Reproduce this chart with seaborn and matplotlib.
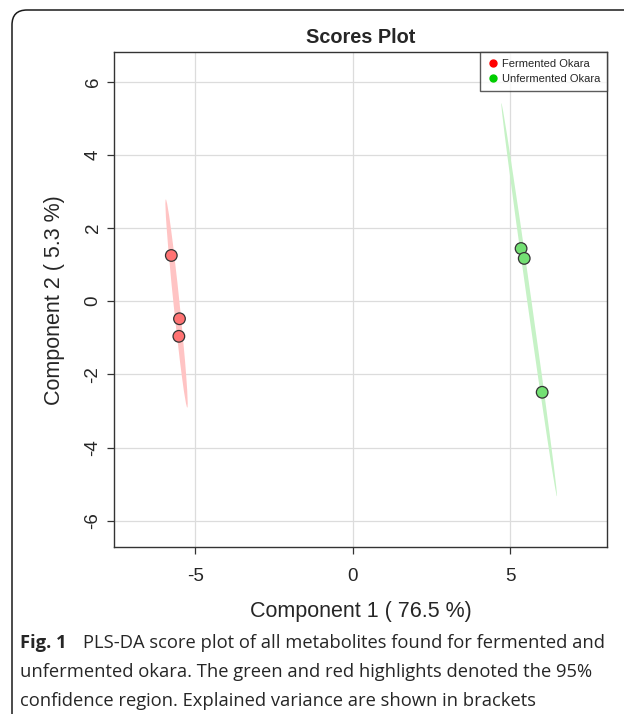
import numpy as np
import pandas as pd
import matplotlib
matplotlib.use("Agg")
import matplotlib.pyplot as plt
import seaborn as sns
from matplotlib.patches import Ellipse, FancyBboxPatch
from matplotlib.lines import Line2D

# -------------------------
# === Data ================
# -------------------------
groups = ["Fermented Okara"] * 3 + ["Unfermented Okara"] * 3
comp1 = [-5.76, -5.50, -5.52, 5.35, 5.45, 6.02]
comp2 = [1.25, -0.48, -0.96, 1.44, 1.17, -2.49]

group_names = ["Fermented Okara", "Unfermented Okara"]
point_colors = ["#FF7373", "#73E073"]
ellipse_colors = ["#FFC4C4", "#C6F2C6"]
legend_colors = ["#FF0000", "#00CD00"]

x_ticks = [-5, 0, 5]
y_ticks = [-6, -4, -2, 0, 2, 4, 6]

title = "Scores Plot"
x_label = "Component 1 ( 76.5 %)"
y_label = "Component 2 ( 5.3 %)"
caption_bold = "Fig. 1"
caption_lines = [
    "PLS-DA score plot of all metabolites found for fermented and",
    "unfermented okara. The green and red highlights denoted the 95%",
    "confidence region. Explained variance are shown in brackets",
]

df = pd.DataFrame({"group": groups, "comp1": comp1, "comp2": comp2})

# chi-square quantile, 2 df, 95%
CHI2_95 = 5.991


def conf_ellipse(x, y, color):
    """95% covariance ellipse of a group of scores."""
    pts = np.column_stack([x, y])
    cov = np.cov(pts, rowvar=False)
    vals, vecs = np.linalg.eigh(cov)
    order = vals.argsort()[::-1]
    vals, vecs = vals[order], vecs[:, order]
    angle = np.degrees(np.arctan2(vecs[1, 0], vecs[0, 0]))
    w, h = 2 * np.sqrt(CHI2_95 * vals)
    return Ellipse(pts.mean(axis=0), w, h, angle=angle,
                   facecolor=color, edgecolor="none", zorder=1)


# -------------------------
# === Plot ================
# -------------------------
sns.set_theme(style="white")
plt.rcParams["font.family"] = ["Liberation Sans", "DejaVu Sans"]
plt.rcParams["axes.unicode_minus"] = False

fig = plt.figure(figsize=(6.24, 7.14), dpi=100)
ax = fig.add_axes([0.1827, 0.2339, 0.7901, 0.6926])

for g, ec in zip(group_names, ellipse_colors):
    sub = df[df["group"] == g]
    ax.add_patch(conf_ellipse(sub["comp1"].values, sub["comp2"].values, ec))

sns.scatterplot(data=df, x="comp1", y="comp2", hue="group",
                palette=dict(zip(group_names, point_colors)),
                s=70, edgecolor="#333333", linewidth=0.9,
                legend=False, ax=ax, zorder=3)

ax.set_xlim(-7.58, 8.08)
ax.set_ylim(-6.72, 6.80)
ax.set_xticks(x_ticks)
ax.set_yticks(y_ticks)
ax.grid(True, color="#DCDCDC", linewidth=0.9)
ax.set_axisbelow(True)
for sp in ax.spines.values():
    sp.set_color("#333333")
    sp.set_linewidth(1.0)

ax.tick_params(axis="both", which="both", direction="out", length=5,
               width=0.9, color="#333333", labelsize=13.5,
               bottom=True, left=True)
ax.tick_params(axis="x", pad=10)
ax.tick_params(axis="y", pad=4)
plt.setp(ax.get_yticklabels(), rotation=90, va="center")

ax.set_xlabel(x_label, fontsize=15.5, labelpad=12)
ax.set_ylabel(y_label, fontsize=15.5, labelpad=14)
ax.set_title(title, fontsize=14.3, fontweight="bold", pad=7)

handles = [Line2D([0], [0], marker="o", linestyle="none", markersize=5,
                  markerfacecolor=c, markeredgecolor=c)
           for c in legend_colors]
leg = ax.legend(handles, group_names, loc="upper right", fontsize=8,
                frameon=True, fancybox=False, borderaxespad=0,
                handletextpad=0.2, handlelength=1.2, borderpad=0.6,
                labelspacing=0.45)
leg.get_frame().set_edgecolor("#333333")
leg.get_frame().set_linewidth(1.0)

# caption below the chart
cap_font = ["Open Sans", "DejaVu Sans"]
cap_y = [1 - 643 / 714, 1 - 672 / 714, 1 - 701 / 714]
fig.text(20 / 624, cap_y[0], caption_bold, fontsize=13.2, fontweight="bold",
         family=cap_font, va="center", ha="left")
fig.text(83 / 624, cap_y[0], caption_lines[0], fontsize=13.2,
         family=cap_font, va="center", ha="left")
fig.text(20 / 624, cap_y[1], caption_lines[1], fontsize=13.2,
         family=cap_font, va="center", ha="left")
fig.text(20 / 624, cap_y[2], caption_lines[2], fontsize=13.2,
         family=cap_font, va="center", ha="left")

# rounded frame of the figure panel
frame = FancyBboxPatch((0.12, -0.5), 7.0, 7.04 + 0.5,
                       boxstyle="round,pad=0,rounding_size=0.15",
                       transform=fig.dpi_scale_trans, facecolor="none",
                       edgecolor="#1A1A1A", linewidth=1.1, clip_on=False)
fig.patches.append(frame)

fig.savefig("out.png", dpi=100)
